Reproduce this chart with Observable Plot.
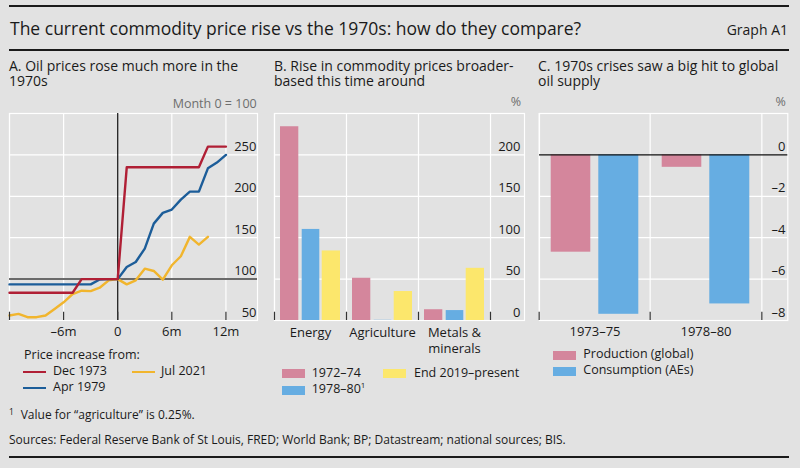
<!DOCTYPE html>
<html>
<head>
<meta charset="utf-8">
<script src="https://cdn.jsdelivr.net/npm/d3@7"></script>
<script src="https://cdn.jsdelivr.net/npm/@observablehq/plot@0.6"></script>
<style>
  html, body { margin:0; padding:0; }
  body { width:800px; height:468px; position:relative; overflow:hidden; background:#e2e2e2;
         font-family:"Open Sans", sans-serif; color:#1a1a1a; }
  .t { position:absolute; white-space:nowrap; line-height:1; }
  .rule { position:absolute; left:9px; width:780px; height:2px; background:#1a1a1a; }
  .panel { position:absolute; top:95px; }
  .sw { position:absolute; }
</style>
</head>
<body>
<script>
// ---------------- DATA ----------------
// Panel A: oil prices, month 0 = 100
const months  = [-12,-11,-10,-9,-8,-7,-6,-5,-4,-3,-2,-1,0,1,2,3,4,5,6,7,8,9,10,11,12];
const dec1973 = [83.5,83.5,83.5,83.5,83.5,83.5,83.5,83.5,100,100,100,100,100,235,235,235,235,235,235,235,235,235,260,260,260];
const apr1979 = [93.6,93.6,93.6,93.6,93.6,93.6,93.6,93.6,93.6,93.6,99.5,100,100,114.6,120.7,136.9,167,180,184,196,205.6,205.6,233.8,240.7,250];
const jul2021 = [56,58,54,54,56,64,72,82,86,85.5,89.6,98.5,100,93.6,98.5,112.6,109.8,99.3,116.7,127.6,151,141.7,151];
const aSeriesNames = ["Dec 1973", "Apr 1979", "Jul 2021"];
const aYTicks  = [50, 100, 150, 200, 250];
const aXTicks  = [-6, 0, 6, 12];
const aXLabels = ["\u20136m", "0", "6m", "12m"];
const aTickMarks = [-12, -6, 0, 6, 12];

// Panel B: rise in commodity prices, %
const bCats   = ["Energy", "Agriculture", "Metals &\nminerals"];
const b197274 = [234, 51, 13];
const b197880 = [110, 0.25, 12];
const b2019   = [84, 35, 63];
const bSeriesNames = ["1972\u201374", "1978\u201380", "End 2019\u2013present"];
const bYTicks = [0, 50, 100, 150, 200];

// Panel C: oil supply, %
const cPeriods     = ["1973\u201375", "1978\u201380"];
const cProduction  = [-4.7, -0.6];
const cConsumption = [-7.7, -7.2];
const cSeriesNames = ["Production (global)", "Consumption (AEs)"];
const cYTicks  = [0, -2, -4, -6, -8];
const cYLabels = ["0", "\u20132", "\u20134", "\u20136", "\u20138"];

// ---------------- STYLE ----------------
const FONT = "Open Sans";
const RED = "#b01f35", DBLUE = "#1c5d99", YEL = "#f1b52d";
const PINK = "#d4869c", LBLUE = "#66ade2", LYEL = "#fce76c";
const baseStyle = {background: "transparent", fontFamily: FONT, fontSize: "13px", color: "#1a1a1a", overflow: "visible"};
const white = {stroke: "#fff", strokeOpacity: 1, strokeWidth: 1.2};

function text(str, left, baseline, size, opt = {}) {
  const d = document.createElement("div");
  d.className = "t";
  d.style.fontSize = size + "px";
  d.style.top = (baseline - 0.888 * size) + "px";
  if (opt.right != null) d.style.right = (800 - opt.right) + "px";
  else if (opt.center != null) { d.style.left = opt.center + "px"; d.style.transform = "translateX(-50%)"; }
  else d.style.left = left + "px";
  if (opt.color) d.style.color = opt.color;
  d.innerHTML = str;
  document.body.appendChild(d);
}
// two-line block: baseline of first line given, line spacing lh
function block(lines, left, baseline, size, lh) {
  const d = document.createElement("div");
  d.className = "t";
  d.style.fontSize = size + "px";
  d.style.lineHeight = lh + "px";
  const off = (lh - 1.362 * size) / 2 + 1.069 * size;
  d.style.top = (baseline - off) + "px";
  d.style.left = left + "px";
  d.innerHTML = lines.join("<br>");
  document.body.appendChild(d);
}
function rule(top) {
  const d = document.createElement("div");
  d.className = "rule"; d.style.top = top + "px";
  document.body.appendChild(d);
}
function swatch(left, baseline, color, kind) {
  const d = document.createElement("div");
  d.className = "sw";
  d.style.left = left + "px";
  d.style.width = "23px";
  d.style.background = color;
  if (kind === "line") { d.style.top = (baseline - 5.2) + "px"; d.style.height = "2.5px"; }
  else { d.style.top = (baseline - 8.5) + "px"; d.style.height = "9px"; }
  document.body.appendChild(d);
}
function panel(left, svg) {
  const d = document.createElement("div");
  d.className = "panel"; d.style.left = left + "px";
  d.appendChild(svg);
  document.body.appendChild(d);
}

// ---------------- HEADER ----------------
rule(5);
text("The current commodity price rise vs the 1970s: how do they compare?", 10, 35.7, 17.5);
text("Graph A1", 0, 35.7, 14, {right: 788});
rule(49);
block(["A. Oil prices rose much more in the", "1970s"], 9, 71, 14, 15.5);
block(["B. Rise in commodity prices broader-", "based this time around"], 274, 71, 14, 15.5);
block(["C. 1970s crises saw a big hit to global", "oil supply"], 538, 71, 14, 15.5);

// ---------------- PANEL A ----------------
const rowsA = (arr) => arr.map((v, i) => ({month: months[i], value: v}));
const plotA = Plot.plot({
  width: 265, height: 265, marginLeft: 9, marginRight: 8, marginTop: 18, marginBottom: 40,
  style: baseStyle,
  x: {domain: [-12, 15.5]},
  y: {domain: [50, 300]},
  marks: [
    Plot.gridY(aYTicks.filter(v => v > 100), white),
    Plot.gridX(aTickMarks.filter(v => v !== 0), white),
    Plot.frame(white),
    Plot.ruleY([100], {stroke: "#6a6a6a", strokeWidth: 2}),
    Plot.ruleX([0], {stroke: "#111", strokeWidth: 1.2}),
    Plot.line(rowsA(jul2021), {x: "month", y: "value", stroke: YEL, strokeWidth: 2.4}),
    Plot.line(rowsA(apr1979), {x: "month", y: "value", stroke: DBLUE, strokeWidth: 2.4}),
    Plot.line(rowsA(dec1973), {x: "month", y: "value", stroke: RED, strokeWidth: 2.4}),
    Plot.ruleX(aTickMarks, {y1: 50, y2: 60, stroke: "#333", strokeWidth: 1.2}),
    Plot.axisY(aYTicks, {anchor: "right", tickSize: 0, tickPadding: 0, textAnchor: "end", dx: -1, dy: -8, tickFormat: d => String(d), label: null}),
    Plot.axisX(aXTicks, {tickSize: 0, tickPadding: 6, tickFormat: d => aXLabels[aXTicks.indexOf(d)], label: null})
  ]
});
panel(0, plotA);
text("Month 0 = 100", 0, 109, 12.5, {right: 256.7, color: "#6e6e6e"});

// legend A
text("Price increase from:", 24, 360, 12.5);
swatch(23, 375.7, RED, "line");   text(aSeriesNames[0], 53, 375.7, 12.5);
swatch(132, 375.7, YEL, "line");  text(aSeriesNames[2], 161, 375.7, 12.5);
swatch(23, 391.7, DBLUE, "line"); text(aSeriesNames[1], 53, 391.7, 12.5);

// ---------------- PANEL B ----------------
const bPad = 0.236, bML = 9, bMR = 11, bW = 270;
const bStep = (bW - bML - bMR) / (bCats.length + 2 * bPad);
const rowsB = (arr) => bCats.map((c, i) => ({cat: c, value: arr[i]}));
const plotB = Plot.plot({
  width: bW, height: 265, marginLeft: bML, marginRight: bMR, marginTop: 18, marginBottom: 40,
  style: baseStyle,
  x: {type: "band", domain: bCats, paddingInner: 0, paddingOuter: bPad, align: 0},
  y: {domain: [0, 250]},
  marks: [
    Plot.gridY(bYTicks.filter(v => v > 0), white),
    Plot.ruleX(bCats, {x: d => d, dx: -bStep / 2, ...white}),
    Plot.ruleX([bCats[bCats.length - 1]], {x: d => d, dx: bStep / 2, ...white}),
    Plot.frame(white),
    Plot.barY(rowsB(b197274), {x: "cat", y: "value", fill: PINK, insetLeft: 6, insetRight: 47.7}),
    Plot.barY(rowsB(b197880), {x: "cat", y: "value", fill: LBLUE, insetLeft: 27.7, insetRight: 26.7}),
    Plot.barY(rowsB(b2019), {x: "cat", y: "value", fill: LYEL, insetLeft: 47.7, insetRight: 6}),
    Plot.ruleX(bCats, {x: d => d, dx: -bStep / 2, y1: 0, y2: 10, stroke: "#333", strokeWidth: 1.2}),
    Plot.ruleX([bCats[bCats.length - 1]], {x: d => d, dx: bStep / 2, y1: 0, y2: 10, stroke: "#333", strokeWidth: 1.2}),
    Plot.axisY(bYTicks, {anchor: "right", tickSize: 0, tickPadding: 0, textAnchor: "end", dx: -4, dy: -8, tickFormat: d => String(d), label: null}),
    Plot.axisX({tickSize: 0, tickPadding: 6, lineHeight: 1.18, label: null})
  ]
});
panel(265, plotB);
text("%", 0, 107, 12.5, {center: 516, color: "#6e6e6e"});

// legend B
swatch(282, 377.7, PINK);  text(bSeriesNames[0], 311.7, 377.7, 12.5);
swatch(383, 377.7, LYEL);  text(bSeriesNames[2], 414, 377.7, 12.5);
swatch(282, 394, LBLUE);   text(bSeriesNames[1] + "<sup style='font-size:8px;vertical-align:5px;line-height:0'>1</sup>", 311.7, 394, 12.5);

// ---------------- PANEL C ----------------
const cPad = 0.1115, cML = 9, cMR = 12.7, cW = 270;
const cStep = (cW - cML - cMR) / (cPeriods.length + 2 * cPad);
const rowsC = (arr) => cPeriods.map((p, i) => ({period: p, value: arr[i]}));
const plotC = Plot.plot({
  width: cW, height: 265, marginLeft: cML, marginRight: cMR, marginTop: 18, marginBottom: 40,
  style: baseStyle,
  x: {type: "band", domain: cPeriods, paddingInner: 0, paddingOuter: cPad, align: 0},
  y: {domain: [-8, 2]},
  marks: [
    Plot.gridY(cYTicks.filter(v => v < 0 && v > -8), white),
    Plot.ruleX(cPeriods, {x: d => d, dx: -cStep / 2, ...white}),
    Plot.ruleX([cPeriods[cPeriods.length - 1]], {x: d => d, dx: cStep / 2, ...white}),
    Plot.frame(white),
    Plot.barY(rowsC(cProduction), {x: "period", y: "value", fill: PINK, insetLeft: 11.7, insetRight: 59.7}),
    Plot.barY(rowsC(cConsumption), {x: "period", y: "value", fill: LBLUE, insetLeft: 59.3, insetRight: 11.7}),
    Plot.ruleY([0], {stroke: "#111", strokeWidth: 1.3}),
    Plot.ruleX(cPeriods, {x: d => d, dx: -cStep / 2, y1: -8, y2: -7.6, stroke: "#333", strokeWidth: 1.2}),
    Plot.ruleX([cPeriods[cPeriods.length - 1]], {x: d => d, dx: cStep / 2, y1: -8, y2: -7.6, stroke: "#333", strokeWidth: 1.2}),
    Plot.axisY(cYTicks, {anchor: "right", tickSize: 0, tickPadding: 0, textAnchor: "end", dx: -2.3, dy: -8, tickFormat: d => cYLabels[cYTicks.indexOf(d)], label: null}),
    Plot.axisX({tickSize: 0, tickPadding: 6, label: null})
  ]
});
panel(530, plotC);
text("%", 0, 107, 12.5, {center: 780.7, color: "#6e6e6e"});

// legend C
swatch(553, 359.3, PINK);  text(cSeriesNames[0], 583.3, 359.3, 12.5);
swatch(553, 375, LBLUE);   text(cSeriesNames[1], 583.3, 375, 12.5);

// ---------------- FOOTER ----------------
text("<span style='display:inline-block;width:11.7px;font-size:8.5px;vertical-align:4px;line-height:0'>1</span>Value for \u201cagriculture\u201d is 0.25%.", 9, 420, 12);
text("Sources: Federal Reserve Bank of St Louis, FRED; World Bank; BP; Datastream; national sources; BIS.", 9, 445, 12);
rule(456);
</script>
</body>
</html>
